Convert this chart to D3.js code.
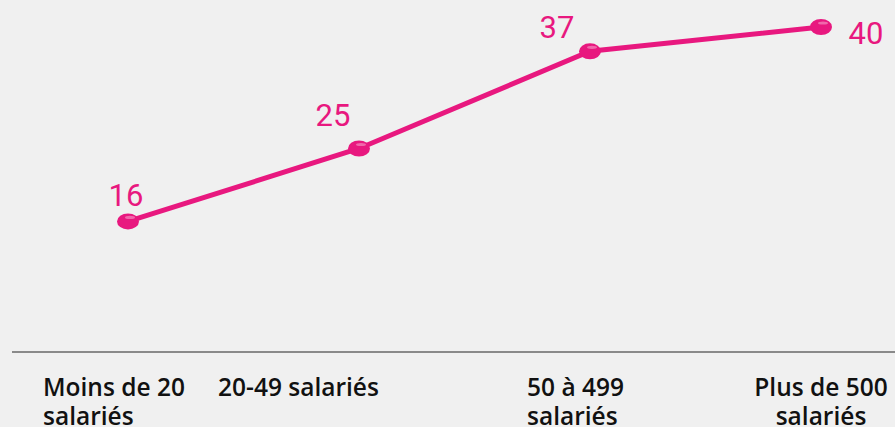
<!DOCTYPE html>
<html>
<head>
<meta charset="utf-8">
<script src="https://cdn.jsdelivr.net/npm/d3@7"></script>
<style>
  html, body { margin: 0; padding: 0; background: #f0f0f0; }
  svg { display: block; }
</style>
</head>
<body>
<div id="chart"></div>
<script>
// tailles d'entreprise
const categories = ["Moins de 20 salariés", "20-49 salariés", "50 à 499 salariés", "Plus de 500 salariés"];
const tickLines = [["Moins de 20", "salariés"], ["20-49 salariés"], ["50 à 499", "salariés"], ["Plus de 500", "salariés"]];
const values = [16, 25, 37, 40];

const width = 895;
const height = 427;
const pink = "#e8187f";

const svg = d3.select("#chart")
  .append("svg")
  .attr("width", width)
  .attr("height", height);

svg.append("rect")
  .attr("width", width)
  .attr("height", height)
  .attr("fill", "#f0f0f0");

const x = d3.scalePoint()
  .domain(categories)
  .range([128, 821]);

const y = d3.scaleLinear()
  .domain([0, 40])
  .range([351, 27]);

// ligne de base
svg.append("line")
  .attr("x1", 12)
  .attr("x2", width)
  .attr("y1", y(0) + 1)
  .attr("y2", y(0) + 1)
  .attr("stroke", "#8a8a8a")
  .attr("stroke-width", 2);

// libellés des catégories (placement à la main, comme l'original)
const tickLayout = [
  { dx: -85, anchor: "start" },
  { dx: -141, anchor: "start" },
  { dx: -63, anchor: "start" },
  { dx: 0, anchor: "middle" }
];

const ticks = svg.append("g")
  .selectAll("text")
  .data(categories)
  .join("text")
  .attr("font-family", "'Open Sans', sans-serif")
  .attr("font-weight", 600)
  .attr("font-size", 24.5)
  .attr("fill", "#111")
  .attr("text-anchor", (d, i) => tickLayout[i].anchor)
  .attr("transform", (d, i) => `translate(${x(d) + tickLayout[i].dx},396)`);

ticks.selectAll("tspan")
  .data((d, i) => tickLines[i])
  .join("tspan")
  .attr("x", 0)
  .attr("y", (d, j) => j * 29)
  .text(d => d);

const data = categories.map((c, i) => ({ cat: c, value: values[i] }));

const line = d3.line()
  .x(d => x(d.cat))
  .y(d => y(d.value));

svg.append("path")
  .datum(data)
  .attr("d", line)
  .attr("fill", "none")
  .attr("stroke", pink)
  .attr("stroke-width", 5)
  .attr("stroke-linecap", "round");

const dots = svg.append("g")
  .selectAll("g")
  .data(data)
  .join("g")
  .attr("transform", d => `translate(${x(d.cat)},${y(d.value)})`);

dots.append("ellipse")
  .attr("rx", 11)
  .attr("ry", 8)
  .attr("fill", pink);

dots.append("ellipse")
  .attr("cx", 2)
  .attr("cy", -4)
  .attr("rx", 5)
  .attr("ry", 1.6)
  .attr("fill", "#fff")
  .attr("opacity", 0.35);

// valeurs
const valueOffset = [
  { dx: -2, dy: -15 },
  { dx: -26, dy: -23 },
  { dx: -33, dy: -13 },
  { dx: 45, dy: 17 }
];

svg.append("g")
  .selectAll("text")
  .data(data)
  .join("text")
  .attr("x", (d, i) => x(d.cat) + valueOffset[i].dx)
  .attr("y", (d, i) => y(d.value) + valueOffset[i].dy)
  .attr("text-anchor", "middle")
  .attr("font-family", "Roboto, sans-serif")
  .attr("font-weight", 400)
  .attr("font-size", 31)
  .attr("fill", pink)
  .text(d => d.value);
</script>
</body>
</html>
